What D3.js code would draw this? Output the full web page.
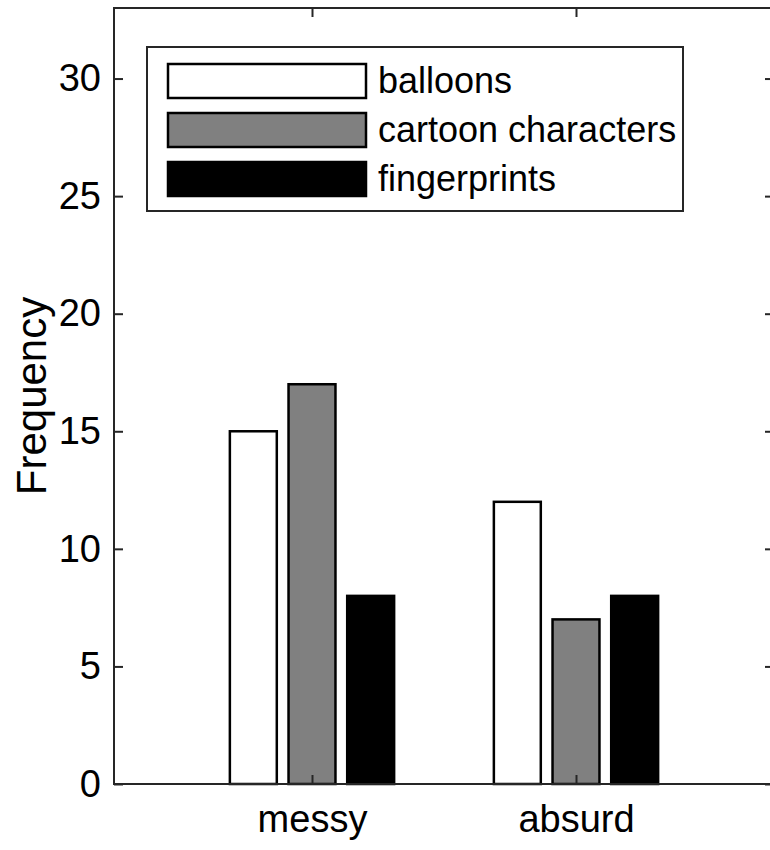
<!DOCTYPE html>
<html>
<head>
<meta charset="utf-8">
<script src="https://cdn.jsdelivr.net/npm/d3@7"></script>
<style>
  html, body { margin: 0; padding: 0; background: #fff; }
  svg { display: block; }
  text { font-family: "Liberation Sans", Arial, Helvetica, sans-serif; fill: #000; }
</style>
</head>
<body>
<svg id="chart" width="770" height="850"></svg>
<script>
// Data
const categories = ["messy", "absurd"];
const seriesNames = ["balloons", "cartoon characters", "fingerprints"];
const balloons = [15, 12];
const cartoonCharacters = [17, 7];
const fingerprints = [8, 8];
const yTicks = [0, 5, 10, 15, 20, 25, 30];
const seriesFill = ["#ffffff", "#808080", "#000000"];

const seriesValues = [balloons, cartoonCharacters, fingerprints];

const svg = d3.select("#chart");

// Plot box (right edge runs past the canvas)
const boxLeft = 114, boxTop = 8, boxBottom = 784;
const catStep = 264;
const boxRight = boxLeft + 2.5 * catStep;

const x = d3.scaleLinear().domain([0.25, 2.75]).range([boxLeft, boxRight]);
const y = d3.scaleLinear().domain([0, 33]).range([boxBottom, boxTop]);

// Grouped bar layout: group width 2/3 of a category, bars 80% of a slot
const nS = seriesValues.length;
const groupW = Math.min(0.8, nS / (nS + 1.5));
const slot = groupW / nS;
const barW = slot * 0.8;

const axisColor = "#262626";
const tickLen = 9;

// Bars
seriesValues.forEach((vals, s) => {
  svg.append("g")
    .selectAll("rect")
    .data(vals)
    .join("rect")
    .attr("x", (d, i) => x(i + 1 - groupW / 2 + slot * s + (slot - barW) / 2))
    .attr("width", () => x(barW) - x(0))
    .attr("y", d => y(d))
    .attr("height", d => y(0) - y(d))
    .attr("fill", seriesFill[s])
    .attr("stroke", "#000")
    .attr("stroke-width", 2.5);
});

// Axes (ticks pointing inward)
const yAxisL = d3.axisLeft(y).tickValues(yTicks).tickSize(-tickLen).tickPadding(tickLen + 4).tickFormat(d3.format("d"));
const gL = svg.append("g").attr("transform", `translate(${boxLeft},0)`).call(yAxisL);
gL.select(".domain").remove();
gL.selectAll(".tick line").attr("stroke", axisColor).attr("stroke-width", 2);
gL.selectAll(".tick text").attr("font-size", 38).attr("fill", "#262626")
  .attr("font-family", "Liberation Sans, Arial, sans-serif");

const yAxisR = d3.axisRight(y).tickValues(yTicks).tickSize(-tickLen).tickFormat("");
const gR = svg.append("g").attr("transform", `translate(${boxRight},0)`).call(yAxisR);
gR.select(".domain").remove();
gR.selectAll(".tick line").attr("stroke", axisColor).attr("stroke-width", 2);

const xAxisB = d3.axisBottom(x).tickValues([1, 2]).tickSize(-tickLen).tickPadding(tickLen + 12)
  .tickFormat(d => categories[d - 1]);
const gB = svg.append("g").attr("transform", `translate(0,${boxBottom})`).call(xAxisB);
gB.select(".domain").remove();
gB.selectAll(".tick line").attr("stroke", axisColor).attr("stroke-width", 2);
gB.selectAll(".tick text").attr("font-size", 38).attr("fill", "#262626")
  .attr("font-family", "Liberation Sans, Arial, sans-serif");

const xAxisT = d3.axisTop(x).tickValues([1, 2]).tickSize(-tickLen).tickFormat("");
const gT = svg.append("g").attr("transform", `translate(0,${boxTop})`).call(xAxisT);
gT.select(".domain").remove();
gT.selectAll(".tick line").attr("stroke", axisColor).attr("stroke-width", 2);

// Box
svg.append("rect")
  .attr("x", boxLeft).attr("y", boxTop)
  .attr("width", boxRight - boxLeft).attr("height", boxBottom - boxTop)
  .attr("fill", "none").attr("stroke", axisColor).attr("stroke-width", 2);

// Y label
svg.append("text")
  .attr("transform", `translate(46,${(boxTop + boxBottom) / 2}) rotate(-90)`)
  .attr("text-anchor", "middle")
  .attr("font-size", 42)
  .attr("fill", "#262626")
  .text("Frequency");

// Legend
const legend = svg.append("g");
legend.append("rect")
  .attr("x", 147).attr("y", 47).attr("width", 536).attr("height", 164)
  .attr("fill", "#fff").attr("stroke", axisColor).attr("stroke-width", 2);
const rowY = [81, 130, 179];
seriesNames.forEach((name, i) => {
  legend.append("rect")
    .attr("x", 168).attr("y", rowY[i] - 17).attr("width", 198).attr("height", 34)
    .attr("fill", seriesFill[i]).attr("stroke", "#000").attr("stroke-width", 2.5);
  legend.append("text")
    .attr("x", 378).attr("y", rowY[i] + 12)
    .attr("font-size", 36)
    .text(name);
});
</script>
</body>
</html>
